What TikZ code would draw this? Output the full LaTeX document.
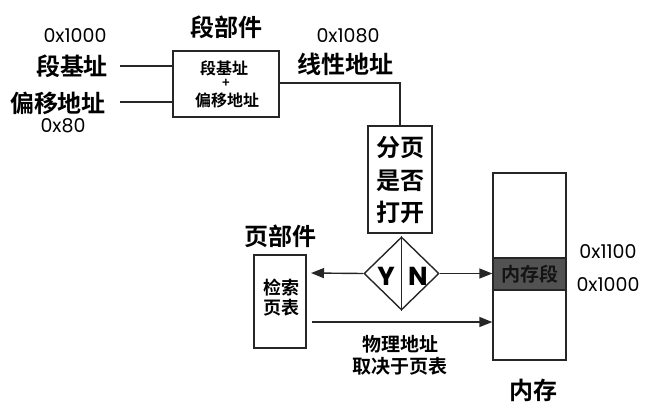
\documentclass[tikz,border=0pt]{standalone}
\usepackage{fontspec}
\usetikzlibrary{arrows.meta,shapes.geometric}
\newfontfamily\cjk{Noto Sans CJK SC Bold}
\newfontfamily\hexf{Poppins}
\tikzset{
  ln/.style={line width=1.4pt,black!85},
  arr/.style={ln,-{Triangle[length=13pt,width=10pt]}},
  big/.style={font=\cjk\fontsize{24}{28}\selectfont,inner sep=0pt},
  mid/.style={font=\cjk\fontsize{19}{22}\selectfont,inner sep=0pt,align=center},
  small/.style={font=\cjk\fontsize{16}{19}\selectfont,inner sep=0pt,align=center},
  hex/.style={font=\hexf\fontsize{19}{21}\selectfont,inner sep=0pt},
  box/.style={draw,line width=1.4pt,black!85,inner sep=0pt,text=black},
}
\begin{document}
\begin{tikzpicture}[x=1pt,y=-1pt]
\useasboundingbox (0,0) rectangle (654,416);
% segment part
\node[hex] (h1) at (75,36) {0x1000};
\node[big] (sb) at (72,66) {段基址};
\node[big] (oa) at (58,103) {偏移地址};
\node[hex] (h2) at (63,126) {0x80};
\node[big] (segt) at (226,27) {段部件};
\node[box,minimum width=106pt,minimum height=66pt] (seg) at (226,84) {};
\node[small] (s1) at (224,68) {段基址};
\node[font=\cjk\fontsize{13}{13}\selectfont,inner sep=0pt] (plus) at (226,83.5) {+};
\node[small] (s2) at (227,100) {偏移地址};
\coordinate (sbl) at (120,66);
\coordinate (oal) at (120,102);
\draw[ln] (sbl) -- (sbl -| seg.west);
\draw[ln] (oal) -- (oal -| seg.west);
% linear address
\node[hex] (h3) at (348,36) {0x1080};
\node[big] (lin) at (345,64) {线性地址};
\node[box,minimum width=64pt,minimum height=107pt] (pg) at (400,179.5) {};
\node[big] (p1) at (400,148) {分页};
\node[big] (p2) at (400,181) {是否};
\node[big] (p3) at (400,212) {打开};
\coordinate (segout) at (279,83);
\draw[ln] (segout) -| (pg.north);
% diamond
\node[draw,line width=1.4pt,black!85,shape=diamond,minimum width=75pt,minimum height=73pt,inner sep=0pt] (dia) at (401.5,273.5) {};
\draw[ln] (dia.north) -- (dia.south);
\node[font=\hexf\bfseries\fontsize{26}{26}\selectfont,inner sep=0pt] (Y) at (386,276) {Y};
\node[font=\hexf\bfseries\fontsize{26}{26}\selectfont,inner sep=0pt] (N) at (418,276) {N};
% page part
\node[big] (pgt) at (280,236) {页部件};
\node[box,minimum width=52pt,minimum height=93pt] (pt) at (280,301.5) {};
\node[small,font=\cjk\fontsize{18}{20}\selectfont] (t1) at (281,288) {检索};
\node[small,font=\cjk\fontsize{18}{20}\selectfont] (t2) at (281,308) {页表};
% memory
\node[box,minimum width=73pt,minimum height=187pt] (mem) at (529.5,266.5) {};
\node[draw,line width=1.4pt,black!85,fill=black!68,minimum width=73pt,minimum height=32pt,inner sep=0pt] (band) at (529.5,274) {};
\node[inner sep=0pt,text=black!92,font=\cjk\fontsize{19}{21}\selectfont] (bt) at (529.5,274) {内存段};
\node[hex] (h4) at (608,252) {0x1100};
\node[hex] (h5) at (608,285) {0x1000};
\node[big] (memt) at (533,390) {内存};
% arrows
\coordinate (ytip) at (311,273);
\draw[arr] (dia.west) -- (ytip);
\draw[arr] (dia.east) -- (dia.east -| mem.west);
\coordinate (ptout) at (312,322);
\draw[arr] (ptout) -- (ptout -| mem.west);
\node[mid] (ph1) at (400,344) {物理地址};
\node[mid] (ph2) at (400,366) {取决于页表};
\end{tikzpicture}
\end{document}
